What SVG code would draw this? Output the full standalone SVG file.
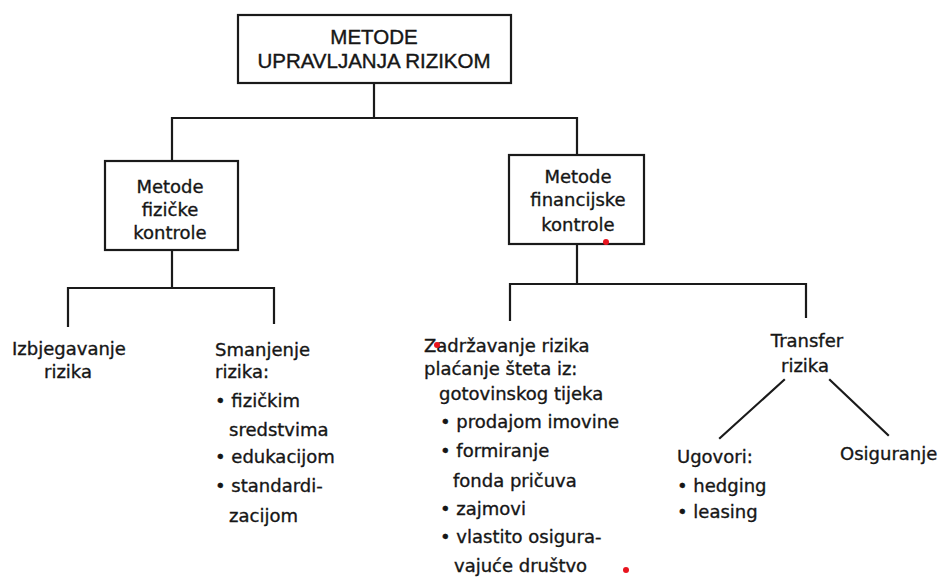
<svg xmlns="http://www.w3.org/2000/svg" width="940" height="583" viewBox="0 0 940 583">
<style>
.bg{fill:#fff}
.box{fill:#fff;stroke:#1a1a1a;stroke-width:2.2}
.ln{fill:none;stroke:#1a1a1a;stroke-width:2.2;stroke-linecap:square}
.t{font-family:"DejaVu Sans",sans-serif;font-size:18px;fill:#161616;stroke:#161616;stroke-width:0.35}
.c{text-anchor:middle}
.top{font-family:"Liberation Sans",Arial,sans-serif;font-size:20.5px;fill:#161616;stroke:#161616;stroke-width:0.4;text-anchor:middle}
.dot{fill:#e8141e}
</style>
<rect class="bg" x="0" y="0" width="940" height="583"/>
<g id="connectors">
<path class="ln" d="M374,83 V118 M172,118 H577 M172,118 V161 M577,118 V155"/>
<path class="ln" d="M172,250 V288 M68,288 H274 M68,288 V326 M274,288 V323"/>
<path class="ln" d="M577,244 V284 M510,284 H806 M510,284 V320 M806,284 V317"/>
<path class="ln" d="M784,380 L720,438 M830,380 L888,435"/>
</g>
<g id="root">
<rect class="box" x="238" y="15" width="273" height="68"/>
<text class="top" x="374" y="44">METODE</text>
<text class="top" x="374" y="68">UPRAVLJANJA RIZIKOM</text>
</g>
<g id="fizicke">
<rect class="box" x="105" y="161" width="133" height="89"/>
<text class="t c" x="170" y="193">Metode</text>
<text class="t c" x="170" y="216">fizičke</text>
<text class="t c" x="170" y="239">kontrole</text>
</g>
<g id="financijske">
<rect class="box" x="509" y="155" width="135" height="89"/>
<text class="t c" x="578" y="183">Metode</text>
<text class="t c" x="578" y="206">financijske</text>
<text class="t c" x="578" y="231">kontrole</text>
</g>
<g id="izbjegavanje">
<text class="t c" x="69" y="355">Izbjegavanje</text>
<text class="t c" x="68" y="378">rizika</text>
</g>
<g id="smanjenje">
<text class="t" x="215" y="356">Smanjenje</text>
<text class="t" x="215" y="378">rizika:</text>
<text class="t" x="215" y="407">• fizičkim</text>
<text class="t" x="229" y="436">sredstvima</text>
<text class="t" x="215" y="463">• edukacijom</text>
<text class="t" x="215" y="492">• standardi-</text>
<text class="t" x="229" y="522">zacijom</text>
</g>
<g id="zadrzavanje">
<text class="t" x="424" y="352">Zadržavanje rizika</text>
<text class="t" x="424" y="375">plaćanje šteta iz:</text>
<text class="t" x="439" y="400">gotovinskog tijeka</text>
<text class="t" x="440" y="428">• prodajom imovine</text>
<text class="t" x="440" y="457">• formiranje</text>
<text class="t" x="453" y="487">fonda pričuva</text>
<text class="t" x="440" y="515">• zajmovi</text>
<text class="t" x="440" y="543">• vlastito osigura-</text>
<text class="t" x="454" y="572">vajuće društvo</text>
</g>
<g id="transfer">
<text class="t c" x="807" y="347">Transfer</text>
<text class="t c" x="805" y="372">rizika</text>
</g>
<g id="ugovori">
<text class="t" x="677" y="463">Ugovori:</text>
<text class="t" x="677" y="492">• hedging</text>
<text class="t" x="677" y="518">• leasing</text>
</g>
<g id="osiguranje">
<text class="t" x="840" y="460">Osiguranje</text>
</g>
<g id="marks">
<circle class="dot" cx="606" cy="242" r="3"/>
<circle class="dot" cx="437" cy="345" r="3"/>
<circle class="dot" cx="626" cy="570" r="3"/>
</g>
</svg>
